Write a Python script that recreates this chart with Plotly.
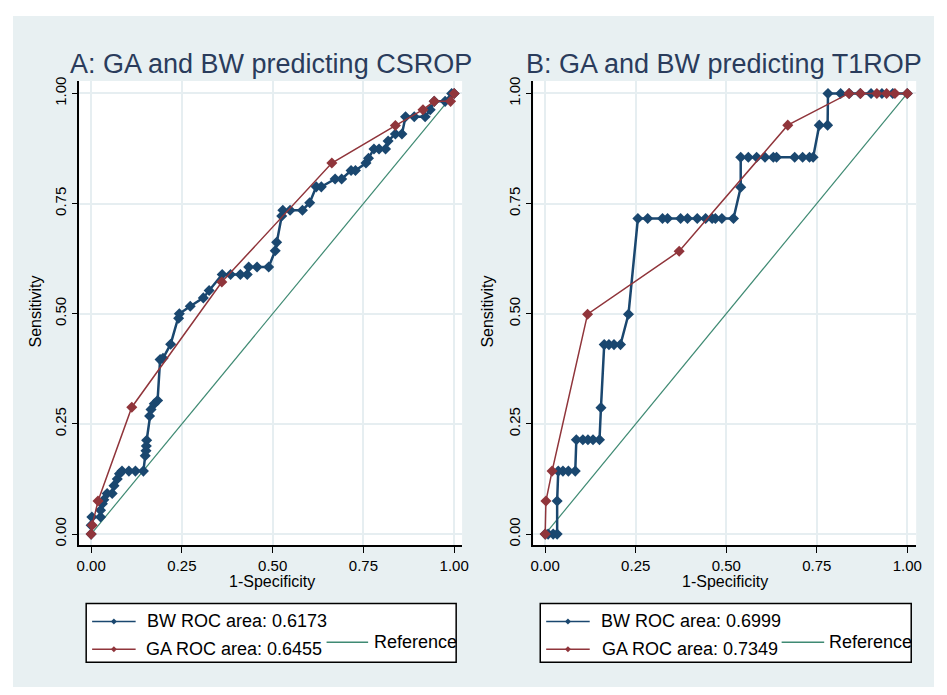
import plotly.graph_objects as go

# page body has an 8px margin: the figure is sized to fit inside the window
OFF = 8
W, H = 947 - 2 * OFF, 695 - 2 * OFF

# ---------------- data ----------------
# Panel A: GA and BW predicting CSROP
bwA_x = [0.000, 0.000, 0.002, 0.026, 0.026, 0.031, 0.035, 0.044, 0.058, 0.063, 0.072, 0.078,
         0.085, 0.104, 0.122, 0.144, 0.149, 0.151, 0.152, 0.153, 0.161, 0.165, 0.174, 0.183,
         0.190, 0.198, 0.219, 0.241, 0.243, 0.273, 0.309, 0.325, 0.361, 0.384, 0.411, 0.430,
         0.434, 0.457, 0.489, 0.507, 0.511, 0.525, 0.528, 0.548, 0.582, 0.602, 0.620, 0.634,
         0.672, 0.690, 0.716, 0.728, 0.757, 0.764, 0.779, 0.793, 0.811, 0.818, 0.838, 0.856,
         0.866, 0.890, 0.920, 0.934, 0.945, 0.975, 0.993, 1.000]
bwA_y = [0.000, 0.020, 0.039, 0.039, 0.054, 0.069, 0.078, 0.092, 0.092, 0.110, 0.125, 0.137,
         0.143, 0.143, 0.143, 0.143, 0.178, 0.189, 0.200, 0.213, 0.268, 0.283, 0.296, 0.303,
         0.396, 0.399, 0.431, 0.490, 0.500, 0.517, 0.536, 0.553, 0.589, 0.589, 0.589, 0.589,
         0.606, 0.606, 0.606, 0.643, 0.662, 0.722, 0.735, 0.735, 0.735, 0.752, 0.788, 0.788,
         0.806, 0.806, 0.825, 0.825, 0.842, 0.853, 0.874, 0.874, 0.874, 0.892, 0.908, 0.908,
         0.947, 0.947, 0.947, 0.963, 0.982, 0.982, 1.000, 1.000]
gaA_x = [0.000, 0.003, 0.019, 0.112, 0.360, 0.663, 0.838, 0.914, 0.945, 0.990, 1.000]
gaA_y = [0.000, 0.020, 0.075, 0.288, 0.572, 0.842, 0.927, 0.963, 0.982, 0.982, 1.000]

# Panel B: GA and BW predicting T1ROP
bwB_x = [0.000, 0.008, 0.022, 0.033, 0.033, 0.036, 0.049, 0.064, 0.083, 0.086, 0.104, 0.118,
         0.132, 0.150, 0.154, 0.163, 0.176, 0.190, 0.208, 0.230, 0.256, 0.283, 0.324, 0.338,
         0.374, 0.393, 0.420, 0.443, 0.461, 0.470, 0.488, 0.520, 0.540, 0.540, 0.561, 0.584,
         0.607, 0.630, 0.639, 0.689, 0.711, 0.730, 0.740, 0.757, 0.780, 0.781, 0.816, 0.840,
         0.870, 0.900, 0.930, 0.960, 1.000]
bwB_y = [0.000, 0.000, 0.000, 0.000, 0.075, 0.143, 0.143, 0.143, 0.143, 0.214, 0.214, 0.214,
         0.214, 0.214, 0.287, 0.430, 0.430, 0.430, 0.430, 0.499, 0.716, 0.716, 0.716, 0.716,
         0.716, 0.716, 0.716, 0.716, 0.716, 0.716, 0.716, 0.716, 0.787, 0.855, 0.855, 0.855,
         0.855, 0.855, 0.855, 0.855, 0.855, 0.855, 0.855, 0.928, 0.928, 1.000, 1.000, 1.000,
         1.000, 1.000, 1.000, 1.000, 1.000]
gaB_x = [0.000, 0.002, 0.019, 0.117, 0.370, 0.670, 0.839, 0.871, 0.916, 0.943, 0.966, 1.000]
gaB_y = [0.000, 0.075, 0.143, 0.499, 0.642, 0.928, 1.000, 1.000, 1.000, 1.000, 1.000, 1.000]

ref_x = [0, 1]
ref_y = [0, 1]

titles = ["A: GA and BW predicting CSROP", "B: GA and BW predicting T1ROP"]
bw_labels = ["BW ROC area: 0.6173", "BW ROC area: 0.6999"]
ga_labels = ["GA ROC area: 0.6455", "GA ROC area: 0.7349"]
ref_label = "Reference"
tick_vals = [0, 0.25, 0.5, 0.75, 1.0]
tick_text = ["0.00", "0.25", "0.50", "0.75", "1.00"]
x_title = "1-Specificity"
y_title = "Sensitivity"

# ---------------- style ----------------
BLUE = "#1a476f"
RED = "#90353b"
GREEN = "#3f8a73"
BG = "#e8f0f2"
GRID = "#e6eef1"
TITLE_C = "#2a3c5c"
FONT = "Liberation Sans, Arial, sans-serif"


def fx(p):
    return (p - OFF) / W


def fy(p):
    return 1 - (p - OFF) / H


fig = go.Figure()


def add_panel(xs, ys, gx, gy, xa, ya):
    fig.add_trace(go.Scatter(x=ref_x, y=ref_y, mode="lines", xaxis=xa, yaxis=ya,
                             line=dict(color=GREEN, width=1.2), showlegend=False,
                             hoverinfo="skip"))
    fig.add_trace(go.Scatter(x=xs, y=ys, mode="lines+markers", xaxis=xa, yaxis=ya,
                             line=dict(color=BLUE, width=2.5),
                             marker=dict(symbol="diamond", size=8.5, color=BLUE),
                             showlegend=False))
    fig.add_trace(go.Scatter(x=gx, y=gy, mode="lines+markers", xaxis=xa, yaxis=ya,
                             line=dict(color=RED, width=1.5),
                             marker=dict(symbol="diamond", size=8.5, color=RED),
                             showlegend=False))


add_panel(bwA_x, bwA_y, gaA_x, gaA_y, "x", "y")
add_panel(bwB_x, bwB_y, gaB_x, gaB_y, "x2", "y2")

ydom = [fy(545), fy(77.5)]
axis_common = dict(
    tickmode="array", tickvals=tick_vals, ticktext=tick_text,
    showgrid=True, gridcolor=GRID, gridwidth=2, zeroline=False,
    showline=True, linecolor="black", linewidth=1.5, mirror=False,
    ticks="outside", ticklen=6, tickcolor="black", tickwidth=1,
    tickfont=dict(family=FONT, size=15, color="black"),
    fixedrange=True,
)
fig.update_layout(
    xaxis=dict(domain=[fx(77), fx(464)], range=[-0.0327, 1.0218], anchor="y", **axis_common),
    yaxis=dict(domain=ydom, range=[-0.0248, 1.0282], anchor="x", tickangle=-90, **axis_common),
    xaxis2=dict(domain=[fx(536), fx(923)], range=[-0.0328, 1.0246], anchor="y2", **axis_common),
    yaxis2=dict(domain=ydom, range=[-0.0248, 1.0282], anchor="x2", tickangle=-90, **axis_common),
)

shapes = []
annotations = []
# outer backgrounds
shapes.append(dict(type="rect", xref="paper", yref="paper", x0=fx(10), x1=fx(941),
                   y0=fy(690), y1=fy(12), fillcolor=BG, line=dict(width=0), layer="below"))
for x0, x1 in [(77, 464), (536, 923)]:
    shapes.append(dict(type="rect", xref="paper", yref="paper", x0=fx(x0), x1=fx(x1),
                       y0=fy(545), y1=fy(77.5), fillcolor="white", line=dict(width=0),
                       layer="below"))

# titles and axis titles
for cx, t in [(271, titles[0]), (729, titles[1])]:
    annotations.append(dict(text=t, x=fx(cx), y=fy(60), xref="paper", yref="paper",
                            showarrow=False, xanchor="center", yanchor="middle",
                            font=dict(family=FONT, size=27, color=TITLE_C)))
for cx in [272, 730]:
    annotations.append(dict(text=x_title, x=fx(cx), y=fy(582), xref="paper", yref="paper",
                            showarrow=False, xanchor="center", yanchor="middle",
                            font=dict(family=FONT, size=16, color="black")))
for cx in [33, 490]:
    annotations.append(dict(text=y_title, x=fx(cx), y=fy(310), xref="paper", yref="paper",
                            showarrow=False, xanchor="center", yanchor="middle", textangle=-90,
                            font=dict(family=FONT, size=16, color="black")))


def diamond(cx, cy, r, color):
    path = "M {a},{b} L {c},{d} L {e},{f} L {g},{h} Z".format(
        a=fx(cx - r), b=fy(cy), c=fx(cx), d=fy(cy - r), e=fx(cx + r), f=fy(cy),
        g=fx(cx), h=fy(cy + r))
    return dict(type="path", xref="paper", yref="paper", path=path, fillcolor=color,
                line=dict(width=0), layer="above")


# legends
legs = [
    dict(box=(84, 458), l1=(90, 134), m=112, t1=143, t2=142, g=(327, 369), tr=373, i=0),
    dict(box=(543, 918), l1=(549, 593), m=571, t1=602, t2=603, g=(787, 830), tr=833, i=1),
]
for L in legs:
    shapes.append(dict(type="rect", xref="paper", yref="paper", x0=fx(L["box"][0]),
                       x1=fx(L["box"][1]), y0=fy(663), y1=fy(604), fillcolor="white",
                       line=dict(color="black", width=1.5), layer="above"))
    for yy, col, lab, tx in [(622, BLUE, bw_labels[L["i"]], L["t1"]),
                             (650, RED, ga_labels[L["i"]], L["t2"])]:
        shapes.append(dict(type="line", xref="paper", yref="paper", x0=fx(L["l1"][0]),
                           x1=fx(L["l1"][1]), y0=fy(yy), y1=fy(yy),
                           line=dict(color=col, width=1.5), layer="above"))
        shapes.append(diamond(L["m"], yy, 3, col))
        annotations.append(dict(text=lab, x=fx(tx), y=fy(yy), xref="paper", yref="paper",
                                showarrow=False, xanchor="left", yanchor="middle",
                                font=dict(family=FONT, size=18, color="black")))
    shapes.append(dict(type="line", xref="paper", yref="paper", x0=fx(L["g"][0]),
                       x1=fx(L["g"][1]), y0=fy(643), y1=fy(643),
                       line=dict(color=GREEN, width=1.5), layer="above"))
    annotations.append(dict(text=ref_label, x=fx(L["tr"]), y=fy(643), xref="paper",
                            yref="paper", showarrow=False, xanchor="left", yanchor="middle",
                            font=dict(family=FONT, size=18, color="black")))

fig.update_layout(
    width=W, height=H,
    margin=dict(l=0, r=0, t=0, b=0),
    paper_bgcolor="white", plot_bgcolor="white",
    shapes=shapes, annotations=annotations,
    showlegend=False,
    font=dict(family=FONT),
)

fig.write_html("out.html")
